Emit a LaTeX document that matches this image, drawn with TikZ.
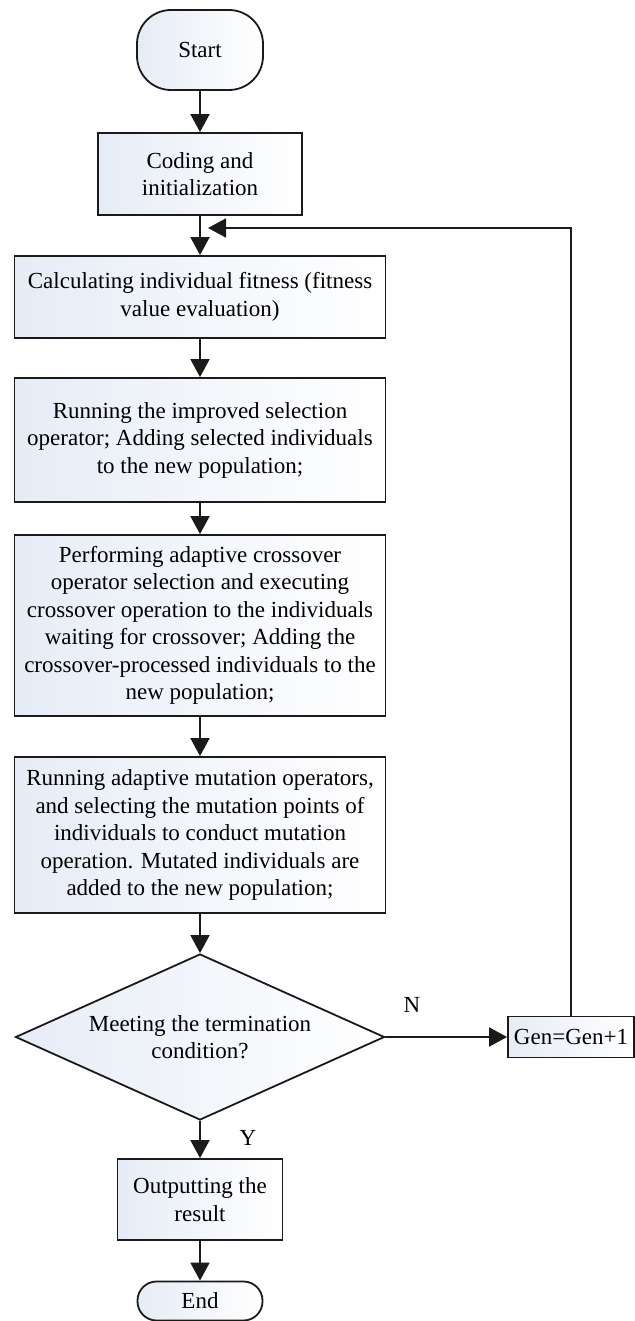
\documentclass[tikz,border=0pt]{standalone}
\usepackage{fontspec}
\setmainfont{Liberation Serif}
\usetikzlibrary{arrows.meta, shapes.geometric}
\definecolor{boxtint}{HTML}{E6ECF6}
\definecolor{inkline}{HTML}{1A1A1A}

\begin{document}
\begin{tikzpicture}[x=1pt, y=-1pt, font=\fontsize{23}{27.5}\selectfont,
    flow/.style={draw=inkline, line width=1.8pt, left color=boxtint,
      right color=white, align=center, inner sep=0pt},
    terminal/.style={flow, rounded corners=#1},
    decision/.style={flow, diamond, aspect=2.2},
    arrow/.style={draw=inkline, line width=1.8pt,
      -{Triangle[length=18pt, width=19pt]}}]
  \useasboundingbox (0,0) rectangle (634,1321);

  % main column
  \node[terminal=34pt, minimum width=126pt, minimum height=80pt] (start) at (200,50) {Start};
  \node[flow, minimum width=204pt, minimum height=82pt] (init) at (200,174)
    {Coding and\\initialization};
  \node[flow, minimum width=371pt, minimum height=82pt] (fit) at (200,297)
    {Calculating individual fitness (fitness\\value evaluation)};
  \node[flow, minimum width=371pt, minimum height=124pt] (sel) at (200,440)
    {Running the improved selection\\operator; Adding selected individuals\\to the new population;};
  \node[flow, minimum width=371pt, minimum height=181pt] (cross) at (200,625.5)
    {Performing adaptive crossover\\operator selection and executing\\crossover operation to the individuals\\waiting for crossover; Adding the\\crossover-processed individuals to the\\new population;};
  \node[flow, minimum width=371pt, minimum height=156pt] (mut) at (200,835)
    {Running adaptive mutation operators,\\and selecting the mutation points of\\individuals to conduct mutation\\operation. Mutated individuals are\\added to the new population;};
  \node[decision, minimum width=369pt, minimum height=166pt] (cond) at (200,1037)
    {Meeting the termination\\condition?};
  \node[flow, minimum width=165pt, minimum height=81pt] (out) at (200,1199.5)
    {Outputting the\\result};
  \node[terminal=19pt, minimum width=125pt, minimum height=39pt] (end) at (200,1301) {End};

  % loop back
  \node[flow, minimum width=126pt, minimum height=41pt] (gen) at (571,1037) {Gen=Gen+1};
  \coordinate (loopin) at (208,228);

  \node (nlabel) at (412,1005) {N};
  \node (ylabel) at (248,1138) {Y};

  \draw[arrow] (start) -- (init);
  \draw[arrow] (init) -- (fit);
  \draw[arrow] (fit) -- (sel);
  \draw[arrow] (sel) -- (cross);
  \draw[arrow] (cross) -- (mut);
  \draw[arrow] (mut) -- (cond);
  \draw[arrow] (cond) -- (gen);
  \draw[arrow] (cond) -- (out);
  \draw[arrow] (out) -- (end);
  \draw[arrow] (gen.north) |- (loopin);
\end{tikzpicture}
\end{document}
